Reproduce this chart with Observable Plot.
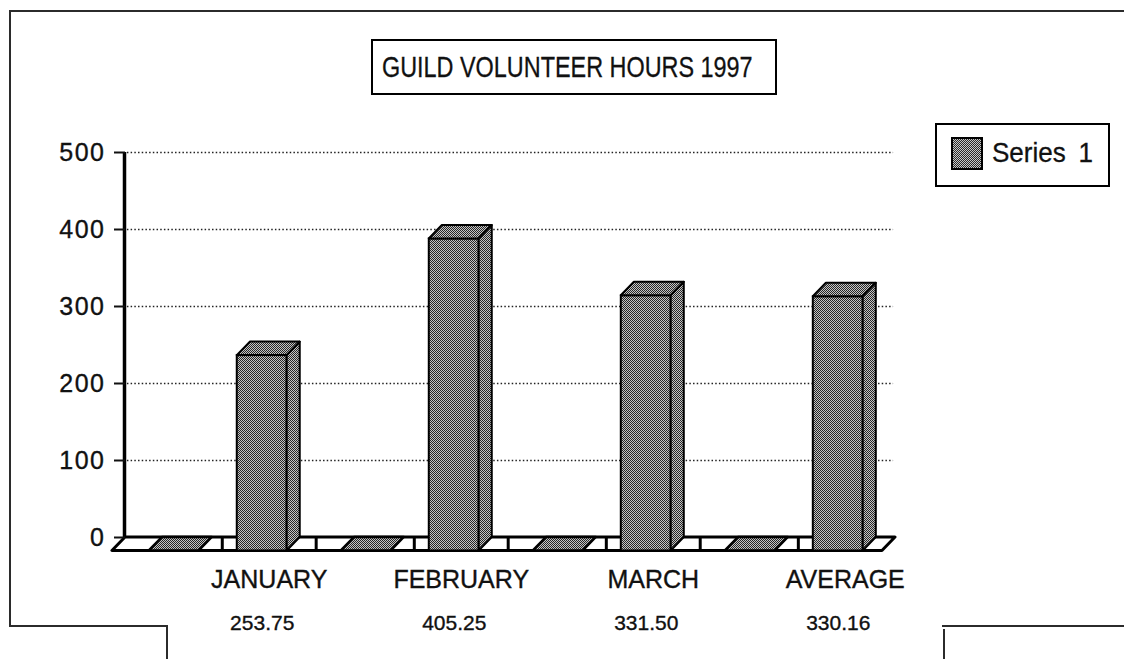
<!DOCTYPE html>
<html>
<head>
<meta charset="utf-8">
<script src="https://cdn.jsdelivr.net/npm/d3@7"></script>
<script src="https://cdn.jsdelivr.net/npm/@observablehq/plot@0.6"></script>
<style>
  html, body { margin: 0; padding: 0; background: #fff; }
  #page { position: relative; width: 1124px; height: 659px; overflow: hidden; font-family: "Liberation Sans", Arial, Helvetica, sans-serif; }
  #chart { position: absolute; left: 0; top: 0; }
  .ln { position: absolute; background: #2b2b2b; }
  #title { position: absolute; left: 371px; top: 39px; width: 406px; height: 56px; box-sizing: border-box; border: 2.5px solid #000; background: #fff; }
  #title span { position: absolute; left: 9px; top: 11px; font-size: 30px; line-height: 30px; white-space: nowrap; transform: scaleX(0.78); transform-origin: 0 0; color: #111; -webkit-text-stroke: 0.3px #111; }
  #legend { position: absolute; left: 935px; top: 123px; width: 175px; height: 64px; box-sizing: border-box; border: 2.5px solid #000; background: #fff; }
  #legend .sw { position: absolute; left: 14px; top: 12px; width: 32px; height: 33px; box-sizing: border-box; border: 2px solid #000;
    background: repeating-conic-gradient(#2a2a2a 0 25%, #c8c8c8 0 50%) 0 0 / 2px 2px; }
  #legend .lt { position: absolute; left: 55px; top: 13px; font-size: 28px; line-height: 30px; white-space: nowrap; word-spacing: 6px; transform: scaleX(0.93); transform-origin: 0 0; color: #111; -webkit-text-stroke: 0.3px #111; }
  svg text { stroke: #111; stroke-width: 0.35px; }
  svg [aria-label="y-axis tick label"] text { letter-spacing: 1.5px; }
</style>
</head>
<body>
<div id="page">
  <div id="chart"></div>
  <div class="ln" style="left:9px; top:10px; width:1115px; height:2px;"></div>
  <div class="ln" style="left:9px; top:10px; width:2px; height:617px;"></div>
  <div class="ln" style="left:9px; top:625px; width:159px; height:2px;"></div>
  <div class="ln" style="left:166px; top:625px; width:2px; height:34px;"></div>
  <div class="ln" style="left:942px; top:625px; width:182px; height:2px;"></div>
  <div class="ln" style="left:943px; top:629px; width:2px; height:30px;"></div>
  <div id="title"><span></span></div>
  <div id="legend"><div class="sw"></div><div class="lt"></div></div>
</div>
<script>
// ---- data ----
const chartTitle = "GUILD VOLUNTEER HOURS 1997";
const seriesName = "Series 1";
const categories = ["JANUARY", "FEBRUARY", "MARCH", "AVERAGE"];
const hours = [253.75, 405.25, 331.50, 330.16];
const valueLabels = ["253.75", "405.25", "331.50", "330.16"];
const yTicks = [0, 100, 200, 300, 400, 500];

// ---- geometry / style constants (in scale units) ----
const X0 = -0.78, X1 = 3.23;      // back wall extent
const BAR_W = 0.26;               // bar width
const DX = 0.068, DY = 17.5;      // 3D depth offset (x units, y units)
const GHOST_OFF = -0.458;         // empty floor slot before each bar
const SEP_L = -0.078, SEP_R = 0.151; // floor tile separators around each bar
const FONT = "Liberation Sans, Arial, Helvetica, sans-serif";
const FILL = "url(#stip)";

document.querySelector("#title span").textContent = chartTitle;
document.querySelector("#legend .lt").textContent = seriesName;

const bars = categories.map((c, i) => ({cat: c, i, v: hours[i]}));

const floorRows = [
  {y: -DY, x1: X0 - DX, x2: X1 - DX},
  {y: 0, x1: X0, x2: X1}
];
const ghostRows = bars.flatMap(d => {
  const gx = d.i - BAR_W / 2 + GHOST_OFF;
  return [
    {cat: d.cat, y: -DY, x1: gx - DX, x2: gx + BAR_W - DX},
    {cat: d.cat, y: 0, x1: gx, x2: gx + BAR_W}
  ];
});
const sepRows = bars.flatMap(d => {
  const fl = d.i - BAR_W / 2 - DX;
  const s = [fl + SEP_L];
  if (d.i < bars.length - 1) s.push(fl + BAR_W + SEP_R);
  return s;
});
const topRows = bars.flatMap(d => {
  const bx = d.i - BAR_W / 2;
  return [
    {cat: d.cat, y: d.v - DY, x1: bx - DX, x2: bx + BAR_W - DX},
    {cat: d.cat, y: d.v, x1: bx, x2: bx + BAR_W}
  ];
});
const sideRows = bars.flatMap(d => {
  const bx = d.i + BAR_W / 2;
  return [
    {cat: d.cat, x: bx - DX, y1: -DY, y2: d.v - DY},
    {cat: d.cat, x: bx, y1: 0, y2: d.v}
  ];
});

const svg = Plot.plot({
  width: 1124,
  height: 659,
  marginLeft: 125,
  marginRight: 229,
  marginTop: 152,
  marginBottom: 122,
  style: {fontFamily: FONT, background: "transparent", color: "#111"},
  x: {domain: [X0, X1], axis: null},
  y: {domain: [0, 500], axis: null},
  marks: [
    Plot.ruleY(yTicks.filter(t => t > 0), {x1: X0 + 0.01, x2: X1 - 0.01, stroke: "#222", strokeWidth: 1.3, strokeDasharray: "1.5,2.2"}),
    Plot.areaX(floorRows, {y: "y", x1: "x1", x2: "x2", fill: "#fff", stroke: "#000", strokeWidth: 3}),
    Plot.ruleX(sepRows, {y1: -DY, y2: 0, stroke: "#000", strokeWidth: 3}),
    Plot.areaX(ghostRows, {y: "y", x1: "x1", x2: "x2", z: "cat", fill: FILL, stroke: "#000", strokeWidth: 2.5}),
    Plot.ruleX([X0], {y1: 0, y2: 500, stroke: "#000", strokeWidth: 3.5, dx: -1}),
    Plot.axisY(yTicks, {anchor: "left", tickSize: 11, tickPadding: 9, fontSize: 25, strokeWidth: 2, tickFormat: d => String(d)}),
    Plot.rect(bars, {x1: d => d.i - BAR_W / 2 - DX, x2: d => d.i + BAR_W / 2 - DX, y1: -DY, y2: d => d.v - DY, fill: FILL, stroke: "#000", strokeWidth: 2}),
    Plot.areaX(topRows, {y: "y", x1: "x1", x2: "x2", z: "cat", fill: FILL, stroke: "#000", strokeWidth: 2}),
    Plot.areaY(sideRows, {x: "x", y1: "y1", y2: "y2", z: "cat", fill: FILL, stroke: "#000", strokeWidth: 2}),
    Plot.text(categories, {x: (d, i) => i - DX, y: 0, dy: 42, dx: 7, text: d => d, fontSize: 25, fill: "#111"}),
    Plot.text(valueLabels, {x: (d, i) => i - DX, y: 0, dy: 86, dx: 0, text: d => d, fontSize: 21, fill: "#111"})
  ]
});

// stipple pattern for the bars
const defs = d3.select(svg).insert("defs", ":first-child");
const pat = defs.append("pattern").attr("id", "stip").attr("width", 2).attr("height", 2).attr("patternUnits", "userSpaceOnUse");
pat.append("rect").attr("width", 2).attr("height", 2).attr("fill", "#c4c4c4");
pat.append("rect").attr("x", 0).attr("y", 0).attr("width", 1).attr("height", 1).attr("fill", "#262626");
pat.append("rect").attr("x", 1).attr("y", 1).attr("width", 1).attr("height", 1).attr("fill", "#262626");

document.getElementById("chart").appendChild(svg);
</script>
</body>
</html>
